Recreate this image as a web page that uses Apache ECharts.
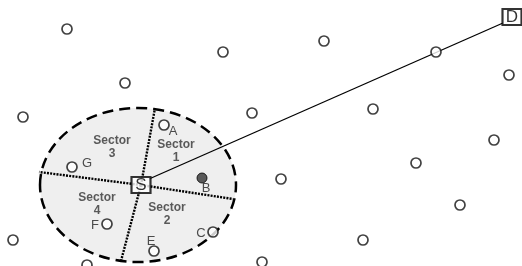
<!DOCTYPE html>
<html>
<head>
<meta charset="utf-8">
<script src="https://cdn.jsdelivr.net/npm/echarts@6/dist/echarts.min.js"></script>
<style>
html,body{margin:0;padding:0;background:#fff;}
#main{width:522px;height:266px;}
</style>
</head>
<body>
<div id="main"></div>
<script>
// plain nodes (hollow)
var nodes = [[67,29],[223,52],[125,83],[23,117],[252,113],[324,41],[436,52],[509,75],[373,109],
	[494,140],[416,163],[281,179],[460,205],[363,240],[13,240],[87,265],[262,262]];
// neighbours inside the range
var neighbours = [[164,125],[72,167],[107,224],[213,232],[154,251]];
var chosen = [[202,178]];
var letters = [['A',173,131],['G',87,163],['B',206,188],['F',95,225],['C',201,233],['E',151,241]];
var sectorNames = [['Sector\n1',176,151],['Sector\n2',167,214],['Sector\n3',112,147],['Sector\n4',97,204]];
var range = [[138,185,98,77]];
var dividers = [[141,185,155,108],[141,185,233,199],[141,185,121,261],[141,185,39,172]];
var route = [[149,179],[503,23]];
var endpoints = [['S',141,185],['D',512,17]];

var chart = echarts.init(document.getElementById('main'));
var font = 'Liberation Sans, Arial, sans-serif';

chart.setOption({
	animation: false,
	grid: {left:0, right:0, top:0, bottom:0},
	xAxis: {type:'value', min:0, max:522, show:false},
	yAxis: {type:'value', min:0, max:266, inverse:true, show:false},
	series: [{
		type: 'custom',
		z: 1,
		data: range,
		renderItem: function(params, api){
			var c = api.coord([api.value(0), api.value(1)]);
			var s = api.size([api.value(2), api.value(3)]);
			return {
				type: 'ellipse',
				shape: {cx:c[0], cy:c[1], rx:s[0], ry:s[1]},
				style: {fill:'#efefef', stroke:'#000', lineWidth:2.5, lineDash:[11,6]}
			};
		}
	},{
		type: 'custom',
		z: 2,
		data: dividers,
		renderItem: function(params, api){
			var a = api.coord([api.value(0), api.value(1)]);
			var b = api.coord([api.value(2), api.value(3)]);
			return {
				type: 'line',
				shape: {x1:a[0], y1:a[1], x2:b[0], y2:b[1]},
				style: {stroke:'#000', lineWidth:2.4, lineDash:[2,1.2]}
			};
		}
	},{
		type: 'line',
		z: 3,
		data: route,
		symbol: 'none',
		lineStyle: {color:'#000', width:1.3}
	},{
		type: 'scatter',
		z: 4,
		data: nodes.concat(neighbours),
		symbol: 'circle',
		symbolSize: 10,
		itemStyle: {color:'#fff', borderColor:'#111', borderWidth:1.7}
	},{
		type: 'scatter',
		z: 4,
		data: chosen,
		symbol: 'circle',
		symbolSize: 10,
		itemStyle: {color:'#333', borderColor:'#000', borderWidth:1}
	},{
		type: 'scatter',
		z: 5,
		data: letters.map(function(d){ return {name:d[0], value:[d[1],d[2]]}; }),
		symbolSize: 0,
		label: {show:true, position:'inside', formatter:'{b}', color:'#222', fontSize:13, fontFamily:font}
	},{
		type: 'scatter',
		z: 5,
		data: sectorNames.map(function(d){ return {name:d[0], value:[d[1],d[2]]}; }),
		symbolSize: 0,
		label: {show:true, position:'inside', formatter:'{b}', color:'#333', fontSize:12, lineHeight:13, fontWeight:'bold', fontFamily:font}
	},{
		type: 'scatter',
		z: 6,
		data: endpoints.map(function(d){ return {name:d[0], value:[d[1],d[2]]}; }),
		symbol: 'rect',
		symbolSize: [19,16],
		itemStyle: {color:'#fff', borderColor:'#000', borderWidth:2},
		label: {show:true, position:'inside', formatter:'{b}', color:'#000', fontSize:17, fontFamily:font}
	}]
});
</script>
</body>
</html>
